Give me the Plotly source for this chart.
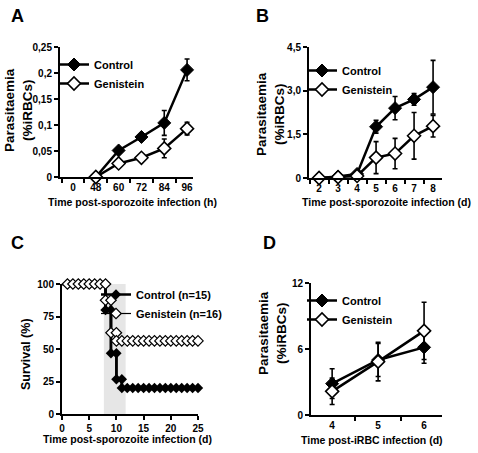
import plotly.graph_objects as go

# ---------------- Data ----------------
# Panel A
a_time = ['0', '48', '60', '72', '84', '96']
a_ctrl = [None, 0.0, 0.051, 0.077, 0.104, 0.206]
a_ctrl_err = [0, 0, 0.005, 0.005, 0.024, 0.021]
a_gen = [None, 0.0, 0.026, 0.037, 0.055, 0.093]
a_gen_err = [0, 0, 0.004, 0.004, 0.018, 0.012]
a_sig = ['', '', '*', '*', '', '*']
a_yticks = [0, 0.05, 0.1, 0.15, 0.2, 0.25]
a_yticktext = ['0', '0,05', '0,1', '0,15', '0,2', '0,25']

# Panel B
b_day = ['2', '3', '4', '5', '6', '7', '8']
b_ctrl = [0.0, 0.05, 0.14, 1.76, 2.4, 2.7, 3.12]
b_ctrl_err = [0, 0.03, 0.05, 0.22, 0.4, 0.2, 0.92]
b_gen = [0.0, 0.03, 0.07, 0.7, 0.84, 1.45, 1.78]
b_gen_err = [0, 0.02, 0.03, 0.55, 0.52, 0.8, 0.37]
b_yticks = [0, 1.5, 3.0, 4.5]
b_yticktext = ['0', '1,5', '3,0', '4,5']

# Panel C (Kaplan-Meier steps: day of drop, survival after drop)
c_ctrl_days = [0, 8, 9, 10, 11]
c_ctrl_surv = [100, 80, 46.7, 26.7, 20]
c_gen_days = [0, 8, 9, 10]
c_gen_surv = [100, 87.5, 62.5, 56.25]
c_end_day = 25
c_shade = [7.7, 11.7]
c_yticks = [0, 25, 50, 75, 100]
c_xticks = [0, 5, 10, 15, 20, 25]

# Panel D
d_day = ['4', '5', '6']
d_ctrl = [2.85, 5.0, 6.15]
d_ctrl_err = [1.35, 1.5, 1.45]
d_gen = [2.15, 4.85, 7.65]
d_gen_err = [1.2, 1.75, 2.6]
d_yticks = [0, 6, 12]

# ---------------- Helpers ----------------
W, H = 478, 453
FONT = "Liberation Sans, Arial, sans-serif"


def px(x):
    return x / W


def py(y):
    return 1 - y / H


def km_step(days, surv, end):
    return list(days) + [end], list(surv) + [surv[-1]]


def km_markers(days, surv, end):
    xs, ys = [], []
    for d in range(1, end + 1):
        idx = max(i for i, t in enumerate(days) if t <= d)
        if d in days[1:]:
            xs.append(d)
            ys.append(surv[idx - 1])
        xs.append(d)
        ys.append(surv[idx])
    return xs, ys


fig = go.Figure()

ctrl_marker = dict(symbol='diamond', size=10, color='black', line=dict(color='black', width=1))
gen_marker = dict(symbol='diamond', size=10, color='white', line=dict(color='black', width=1.6))
err = lambda arr: dict(type='data', array=arr, visible=True, color='black', thickness=1.6, width=2.5)

# Panel A
fig.add_trace(go.Scatter(x=a_time, y=a_ctrl, mode='lines+markers', name='Control',
                         line=dict(color='black', width=2.5), marker=ctrl_marker,
                         error_y=err(a_ctrl_err), xaxis='x', yaxis='y', legend='legend', cliponaxis=False))
fig.add_trace(go.Scatter(x=a_time, y=a_gen, mode='lines+markers', name='Genistein',
                         line=dict(color='black', width=2.5), marker=gen_marker,
                         error_y=err(a_gen_err), xaxis='x', yaxis='y', legend='legend', cliponaxis=False))

# Panel B
fig.add_trace(go.Scatter(x=b_day, y=b_ctrl, mode='lines+markers', name='Control',
                         line=dict(color='black', width=2.5), marker=ctrl_marker,
                         error_y=err(b_ctrl_err), xaxis='x2', yaxis='y2', legend='legend2', cliponaxis=False))
fig.add_trace(go.Scatter(x=b_day, y=b_gen, mode='lines+markers', name='Genistein',
                         line=dict(color='black', width=2.5), marker=gen_marker,
                         error_y=err(b_gen_err), xaxis='x2', yaxis='y2', legend='legend2', cliponaxis=False))

# Panel C
cs_x, cs_y = km_step(c_ctrl_days, c_ctrl_surv, c_end_day)
gs_x, gs_y = km_step(c_gen_days, c_gen_surv, c_end_day)
cm_x, cm_y = km_markers(c_ctrl_days, c_ctrl_surv, c_end_day)
gm_x, gm_y = km_markers(c_gen_days, c_gen_surv, c_end_day)
fig.add_trace(go.Scatter(x=cs_x, y=cs_y, mode='lines', line=dict(color='black', width=2.5, shape='hv'),
                         showlegend=False, xaxis='x3', yaxis='y3', cliponaxis=False))
fig.add_trace(go.Scatter(x=gs_x, y=gs_y, mode='lines', line=dict(color='black', width=2.5, shape='hv'),
                         showlegend=False, xaxis='x3', yaxis='y3', cliponaxis=False))
fig.add_trace(go.Scatter(x=cm_x, y=cm_y, mode='lines+markers', name='Control (n=15)',
                         line=dict(color='black', width=2.5),
                         marker=dict(symbol='diamond', size=8, color='black'),
                         xaxis='x3', yaxis='y3', legend='legend3', cliponaxis=False))
fig.add_trace(go.Scatter(x=gm_x, y=gm_y, mode='lines+markers', name='Genistein (n=16)',
                         line=dict(color='black', width=1.2),
                         marker=dict(symbol='diamond', size=8, color='white', line=dict(color='black', width=1.2)),
                         xaxis='x3', yaxis='y3', legend='legend3', cliponaxis=False))

# Panel D
fig.add_trace(go.Scatter(x=d_day, y=d_ctrl, mode='lines+markers', name='Control',
                         line=dict(color='black', width=2.5), marker=ctrl_marker,
                         error_y=err(d_ctrl_err), xaxis='x4', yaxis='y4', legend='legend4', cliponaxis=False))
fig.add_trace(go.Scatter(x=d_day, y=d_gen, mode='lines+markers', name='Genistein',
                         line=dict(color='black', width=2.5), marker=gen_marker,
                         error_y=err(d_gen_err), xaxis='x4', yaxis='y4', legend='legend4', cliponaxis=False))

tickfont = dict(family=FONT, size=10, color='black', weight='bold')
axis_common = dict(showline=True, linecolor='black', linewidth=2, ticks='outside', ticklen=4,
                   tickwidth=1.5, tickcolor='black', showgrid=False, zeroline=False,
                   tickfont=tickfont, fixedrange=True, automargin=False)

fig.update_layout(
    width=W, height=H, margin=dict(l=0, r=0, t=0, b=0, autoexpand=False),
    paper_bgcolor='white', plot_bgcolor='white',
    font=dict(family=FONT, color='black'),
    xaxis=dict(domain=[px(60), px(193)], anchor='y', type='category', categoryarray=a_time,
               range=[-0.57, 5.26], tickson='boundaries', **axis_common),
    yaxis=dict(domain=[py(177), py(47)], anchor='x', range=[0, 0.25], tickvals=a_yticks,
               ticktext=a_yticktext, **axis_common),
    xaxis2=dict(domain=[px(309), px(442)], anchor='y2', type='category', categoryarray=b_day,
                range=[-0.53, 6.47], tickson='boundaries', **axis_common),
    yaxis2=dict(domain=[py(178), py(47)], anchor='x2', range=[0, 4.5], tickvals=b_yticks,
                ticktext=b_yticktext, **axis_common),
    xaxis3=dict(domain=[px(62), px(198)], anchor='y3', range=[0, 25], tickvals=c_xticks, **axis_common),
    yaxis3=dict(domain=[py(414), py(284)], anchor='x3', range=[0, 100], tickvals=c_yticks, **axis_common),
    xaxis4=dict(domain=[px(311), px(442)], anchor='y4', type='category', categoryarray=d_day,
                range=[-0.46, 2.39], tickson='boundaries', **axis_common),
    yaxis4=dict(domain=[py(415), py(283)], anchor='x4', range=[0, 12], tickvals=d_yticks, **axis_common),
    shapes=[dict(type='rect', xref='x3', yref='y3', x0=c_shade[0], x1=c_shade[1], y0=0, y1=101.5,
                 fillcolor='#e6e6e6', line=dict(width=0), layer='below')],
)

legfont = dict(family=FONT, size=11, color='black', weight='bold')
leg_common = dict(bgcolor='rgba(0,0,0,0)', font=legfont, itemwidth=30, xanchor='left', yanchor='top',
                  tracegroupgap=0, itemclick=False)
fig.update_layout(
    legend=dict(x=px(54), y=py(50), **leg_common),
    legend2=dict(x=px(302), y=py(56), **leg_common),
    legend3=dict(x=px(96), y=py(280), **leg_common),
    legend4=dict(x=px(302), y=py(286), **leg_common),
)

annotations = []
# panel letters
for letter, (lx, ly) in zip('ABCD', [(17, 16), (262, 16), (17, 243), (269, 243)]):
    annotations.append(dict(text=letter, x=px(lx), y=py(ly), xref='paper', yref='paper', showarrow=False,
                            xanchor='center', yanchor='middle',
                            font=dict(family=FONT, size=18, color='black', weight='bold')))
# y titles
for txt, (tx, ty), fs in [('Parasitaemia<br>(%iRBCs)', (18, 110), 13.5),
                          ('Parasitaemia<br>(%iRBCs)', (271, 114), 13.5),
                          ('Survival (%)', (26, 354), 12.5),
                          ('Parasitaemia<br>(%iRBCs)', (272, 333), 13.5)]:
    annotations.append(dict(text=txt, x=px(tx), y=py(ty), xref='paper', yref='paper', showarrow=False,
                            xanchor='center', yanchor='middle', textangle=-90,
                            font=dict(family=FONT, size=fs, color='black', weight='bold')))
# x titles
xtitle_font = dict(family=FONT, size=10.5, color='black', weight='bold')
for txt, (tx, ty) in [('Time post-sporozoite infection (h)', (132, 202)),
                      ('Time post-sporozoite infection (d)', (386, 202)),
                      ('Time post-sporozoite infection (d)', (128, 439)),
                      ('Time post-iRBC infection (d)', (372, 440))]:
    annotations.append(dict(text=txt, x=px(tx), y=py(ty), xref='paper', yref='paper', showarrow=False,
                            xanchor='center', yanchor='middle', font=xtitle_font))
# significance stars
for t, v, e, s in zip(a_time, a_ctrl, a_ctrl_err, a_sig):
    if s:
        annotations.append(dict(text=s, x=t, y=v + e, xref='x', yref='y', showarrow=False,
                                xanchor='center', yanchor='bottom', yshift=1,
                                font=dict(family=FONT, size=12, color='black', weight='bold')))
fig.update_layout(annotations=annotations)

fig.write_html("out.html", config={'displayModeBar': False},
               post_script="document.body.style.margin='0';")
